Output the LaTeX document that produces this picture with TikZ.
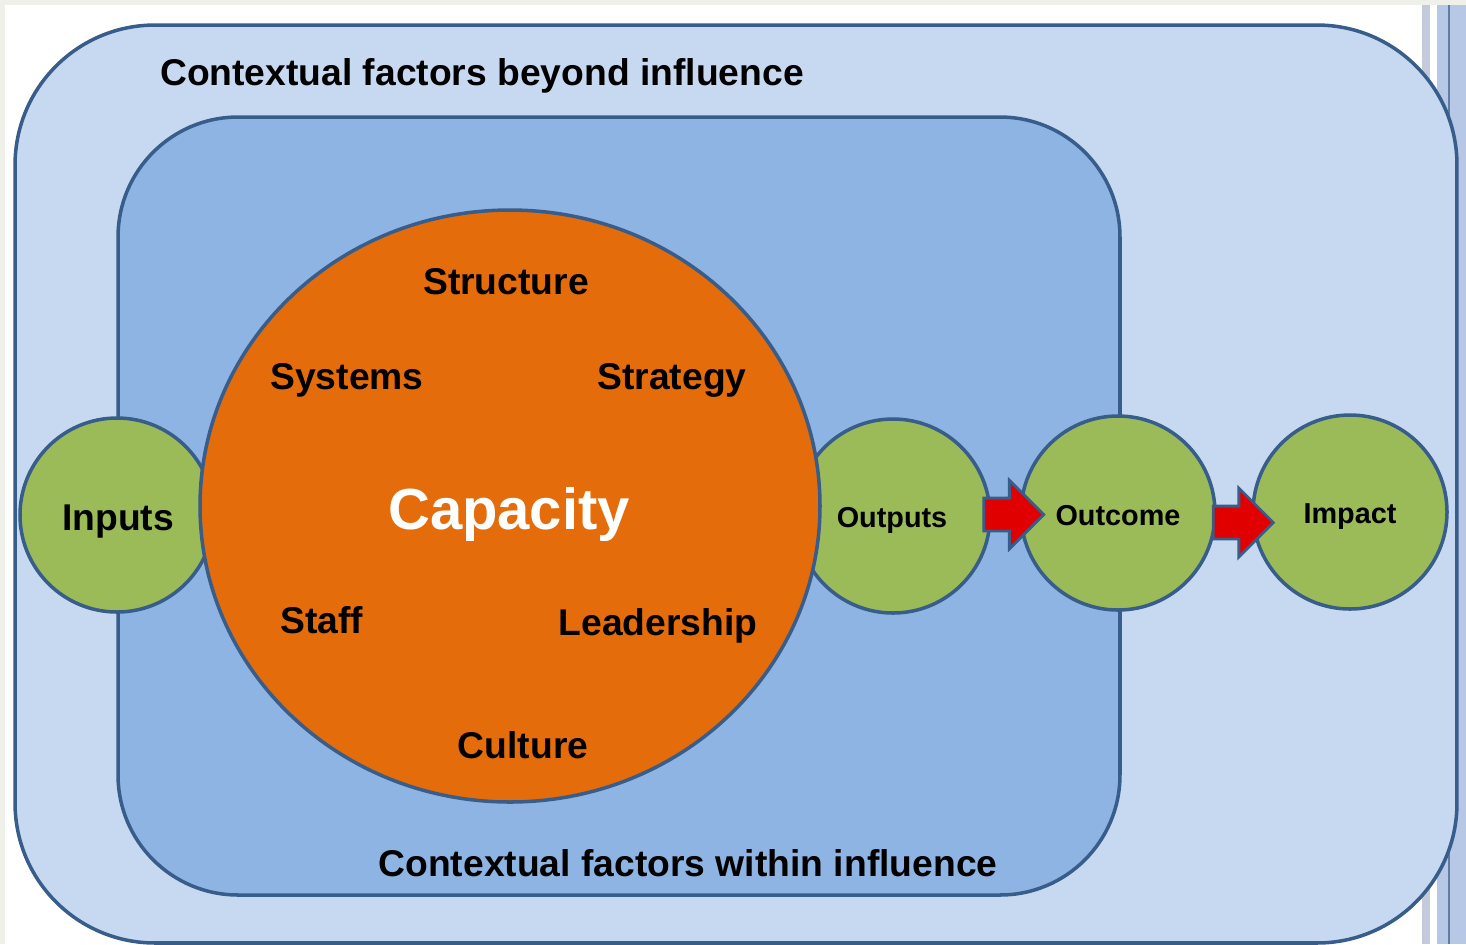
\documentclass[tikz,border=0pt]{standalone}
\usepackage{fontspec}
\setmainfont{Liberation Sans}
\usetikzlibrary{shapes.geometric,shapes.arrows,calc}

\definecolor{outerblue}{HTML}{C6D9F1}
\definecolor{innerblue}{HTML}{8EB4E3}
\definecolor{edgeblue}{HTML}{385D8A}
\definecolor{caporange}{HTML}{E46C0A}
\definecolor{stagegreen}{HTML}{9BBB59}
\definecolor{arrowred}{HTML}{E00000}
\definecolor{pagegray}{HTML}{F0F0EB}
\definecolor{stripegray}{HTML}{C5C9DC}
\definecolor{stripeblue}{HTML}{B7C7E6}

\newcommand{\lblfont}{\fontsize{10.6}{12}\selectfont\bfseries}
\newcommand{\stagefont}{\fontsize{8.2}{10}\selectfont\bfseries}
\newcommand{\capfont}{\fontsize{16.5}{19}\selectfont\bfseries}

\begin{document}
\begin{tikzpicture}[scale=0.1]
    \tikzstyle{every node}+=[inner sep=0pt]
    \tikzstyle{zone}=[draw=edgeblue, line width=1pt]
    \tikzstyle{stage}=[circle, draw=edgeblue, line width=1pt, fill=stagegreen, minimum size=1.94cm]
    \tikzstyle{redarrow}=[single arrow, draw=edgeblue, line width=0.8pt, fill=arrowred,
        inner sep=0.15cm, single arrow head extend=0.18cm, minimum height=0.6cm]
    \useasboundingbox (0,0) rectangle (146.6,-94.4);
    % page edges
    \fill [pagegray] (0,0) rectangle (146.6,-0.5);
    \fill [pagegray] (0,-0.5) rectangle (0.5,-94.4);
    \fill [stripegray] (142.2,-0.5) rectangle (143.0,-94.4);
    \fill [stripeblue] (143.7,-0.5) rectangle (146.6,-94.4);
    \draw [edgeblue!80, line width=0.8pt] (144.9,-0.5) -- (144.9,-94.4);
    % the two zones
    \node [zone, fill=outerblue, rounded corners=1.4cm, minimum width=14.42cm, minimum height=9.18cm] (outer) at (73.6,-48.4) {};
    \node [zone, fill=innerblue, rounded corners=1.2cm, minimum width=10.02cm, minimum height=7.78cm] (inner) at (61.9,-50.6) {};
    \node (beyond) at (48.2,-7.6) {\lblfont Contextual factors beyond influence};
    \node (within) at (68.8,-86.3) {\lblfont Contextual factors within influence};
    % the chain
    \node [stage] (inputs) at (11.7,-51.5) {};
    \node (inputslabel) at (11.8,-52.2) {\lblfont Inputs};
    \node [stage] (outputs) at (89.3,-51.6) {};
    \node (outputslabel) at (89.2,-52.0) {\stagefont Outputs};
    \node [ellipse, draw=edgeblue, line width=1pt, fill=caporange, minimum width=6.2cm, minimum height=5.92cm] (capacity) at (51.0,-50.6) {};
    \node [text=white] (caplabel) at (50.9,-51.4) {\capfont Capacity};
    \node (structure) at (50.6,-28.2) {\lblfont Structure};
    \node (systems) at (34.7,-38.0) {\lblfont Systems};
    \node (strategy) at (67.2,-38.0) {\lblfont Strategy};
    \node (staff) at (32.2,-62.0) {\lblfont Staff};
    \node (leadership) at (65.8,-62.6) {\lblfont Leadership};
    \node (culture) at (52.3,-74.5) {\lblfont Culture};
    \node [stage] (outcome) at (111.8,-51.3) {};
    \node (outcomelabel) at (111.8,-51.6) {\stagefont Outcome};
    \node [stage] (impact) at (135.0,-51.2) {};
    \node (impactlabel) at (135.0,-51.7) {\stagefont Impact};
    \node [redarrow] (toOutcome) at ($(outputs.east)!0.5!(outcome.west)$) {};
    \node [redarrow] (toImpact) at ($(outcome.east)!0.5!(impact.west)+(0.1,-1.0)$) {};
\end{tikzpicture}
\end{document}
